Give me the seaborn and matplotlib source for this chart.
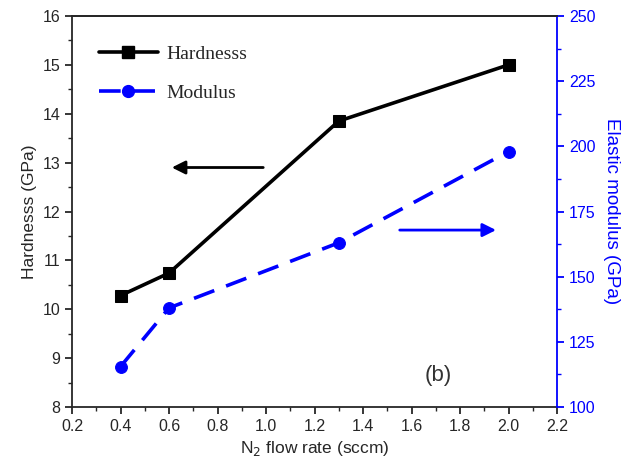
import pandas as pd
import numpy as np
import seaborn as sns
import matplotlib.pyplot as plt
from matplotlib.ticker import MultipleLocator
from matplotlib.lines import Line2D

# data
flow_rate = [0.4, 0.6, 1.3, 2.0]
hardness = [10.28, 10.74, 13.85, 15.0]
modulus = [115.5, 138.0, 163.0, 198.0]

df = pd.DataFrame({'flow': flow_rate, 'hardness': hardness, 'modulus': modulus})

sns.set_style('ticks')
plt.rcParams['font.family'] = ['Liberation Sans', 'DejaVu Sans']
plt.rcParams['xtick.direction'] = 'out'
plt.rcParams['ytick.direction'] = 'out'

fig = plt.figure(figsize=(6.35, 4.7), dpi=100)
ax = fig.add_axes([0.1134, 0.134, 0.7638, 0.832])
ax2 = ax.twinx()

sns.lineplot(x='flow', y='hardness', data=df, ax=ax, color='black', lw=2.6,
             marker='s', markersize=8.5, markeredgecolor='black')
sns.lineplot(x='flow', y='modulus', data=df, ax=ax2, color='blue', lw=2.6,
             marker='o', markersize=8.5, markeredgecolor='blue')
ax2.lines[0].set_dashes([6, 3.5])

ax.set_xlim(0.2, 2.2)
ax.set_ylim(8, 16)
ax2.set_ylim(100, 250)
ax.xaxis.set_major_locator(MultipleLocator(0.2))
ax.xaxis.set_minor_locator(MultipleLocator(0.1))
ax.yaxis.set_major_locator(MultipleLocator(1))
ax.yaxis.set_minor_locator(MultipleLocator(0.5))
ax2.yaxis.set_major_locator(MultipleLocator(25))
ax2.yaxis.set_minor_locator(MultipleLocator(12.5))

ax.set_xlabel('N$_2$ flow rate (sccm)', fontsize=12.5)
ax.set_ylabel('Hardnesss (GPa)', fontsize=12.5)
ax2.set_ylabel('Elastic modulus (GPa)', fontsize=13.5, color='blue', rotation=270, labelpad=18)

for a in (ax, ax2):
    for s in a.spines.values():
        s.set_linewidth(1.3)
ax.tick_params(which='major', length=5, width=1.3, labelsize=11.5)
ax.tick_params(which='minor', length=3, width=1.0)
ax2.tick_params(which='major', length=5, width=1.3, labelsize=11.5, colors='blue')
ax2.tick_params(which='minor', length=3, width=1.0, colors='blue')
ax2.spines['right'].set_color('blue')
ax.spines['right'].set_visible(False)
ax.spines['top'].set_visible(True)
ax2.spines['top'].set_visible(True)
ax2.spines['left'].set_visible(False)
ax2.spines['bottom'].set_visible(False)

# arrows pointing to each axis
ax.annotate('', xy=(0.6, 12.9), xytext=(1.0, 12.9),
            arrowprops=dict(arrowstyle='-|>', color='black', lw=2, mutation_scale=20))
ax.annotate('', xy=(1.96, 11.62), xytext=(1.54, 11.62),
            arrowprops=dict(arrowstyle='-|>', color='blue', lw=2, mutation_scale=20))

ax.text(1.71, 8.65, '(b)', fontsize=16, ha='center', va='center', color='#333333')

handles = [Line2D([], [], color='black', lw=2.6, marker='s', markersize=8.5),
           Line2D([], [], color='blue', lw=2.6, marker='o', markersize=8.5, dashes=[6, 3.5])]
ax2.legend(handles, ['Hardnesss', 'Modulus'], loc='upper left', frameon=False,
           prop={'family': 'Liberation Serif', 'size': 14}, handlelength=3.0,
           handletextpad=0.45, labelspacing=1.1, bbox_to_anchor=(0.02, 0.97))

fig.savefig('out.png', dpi=100)
